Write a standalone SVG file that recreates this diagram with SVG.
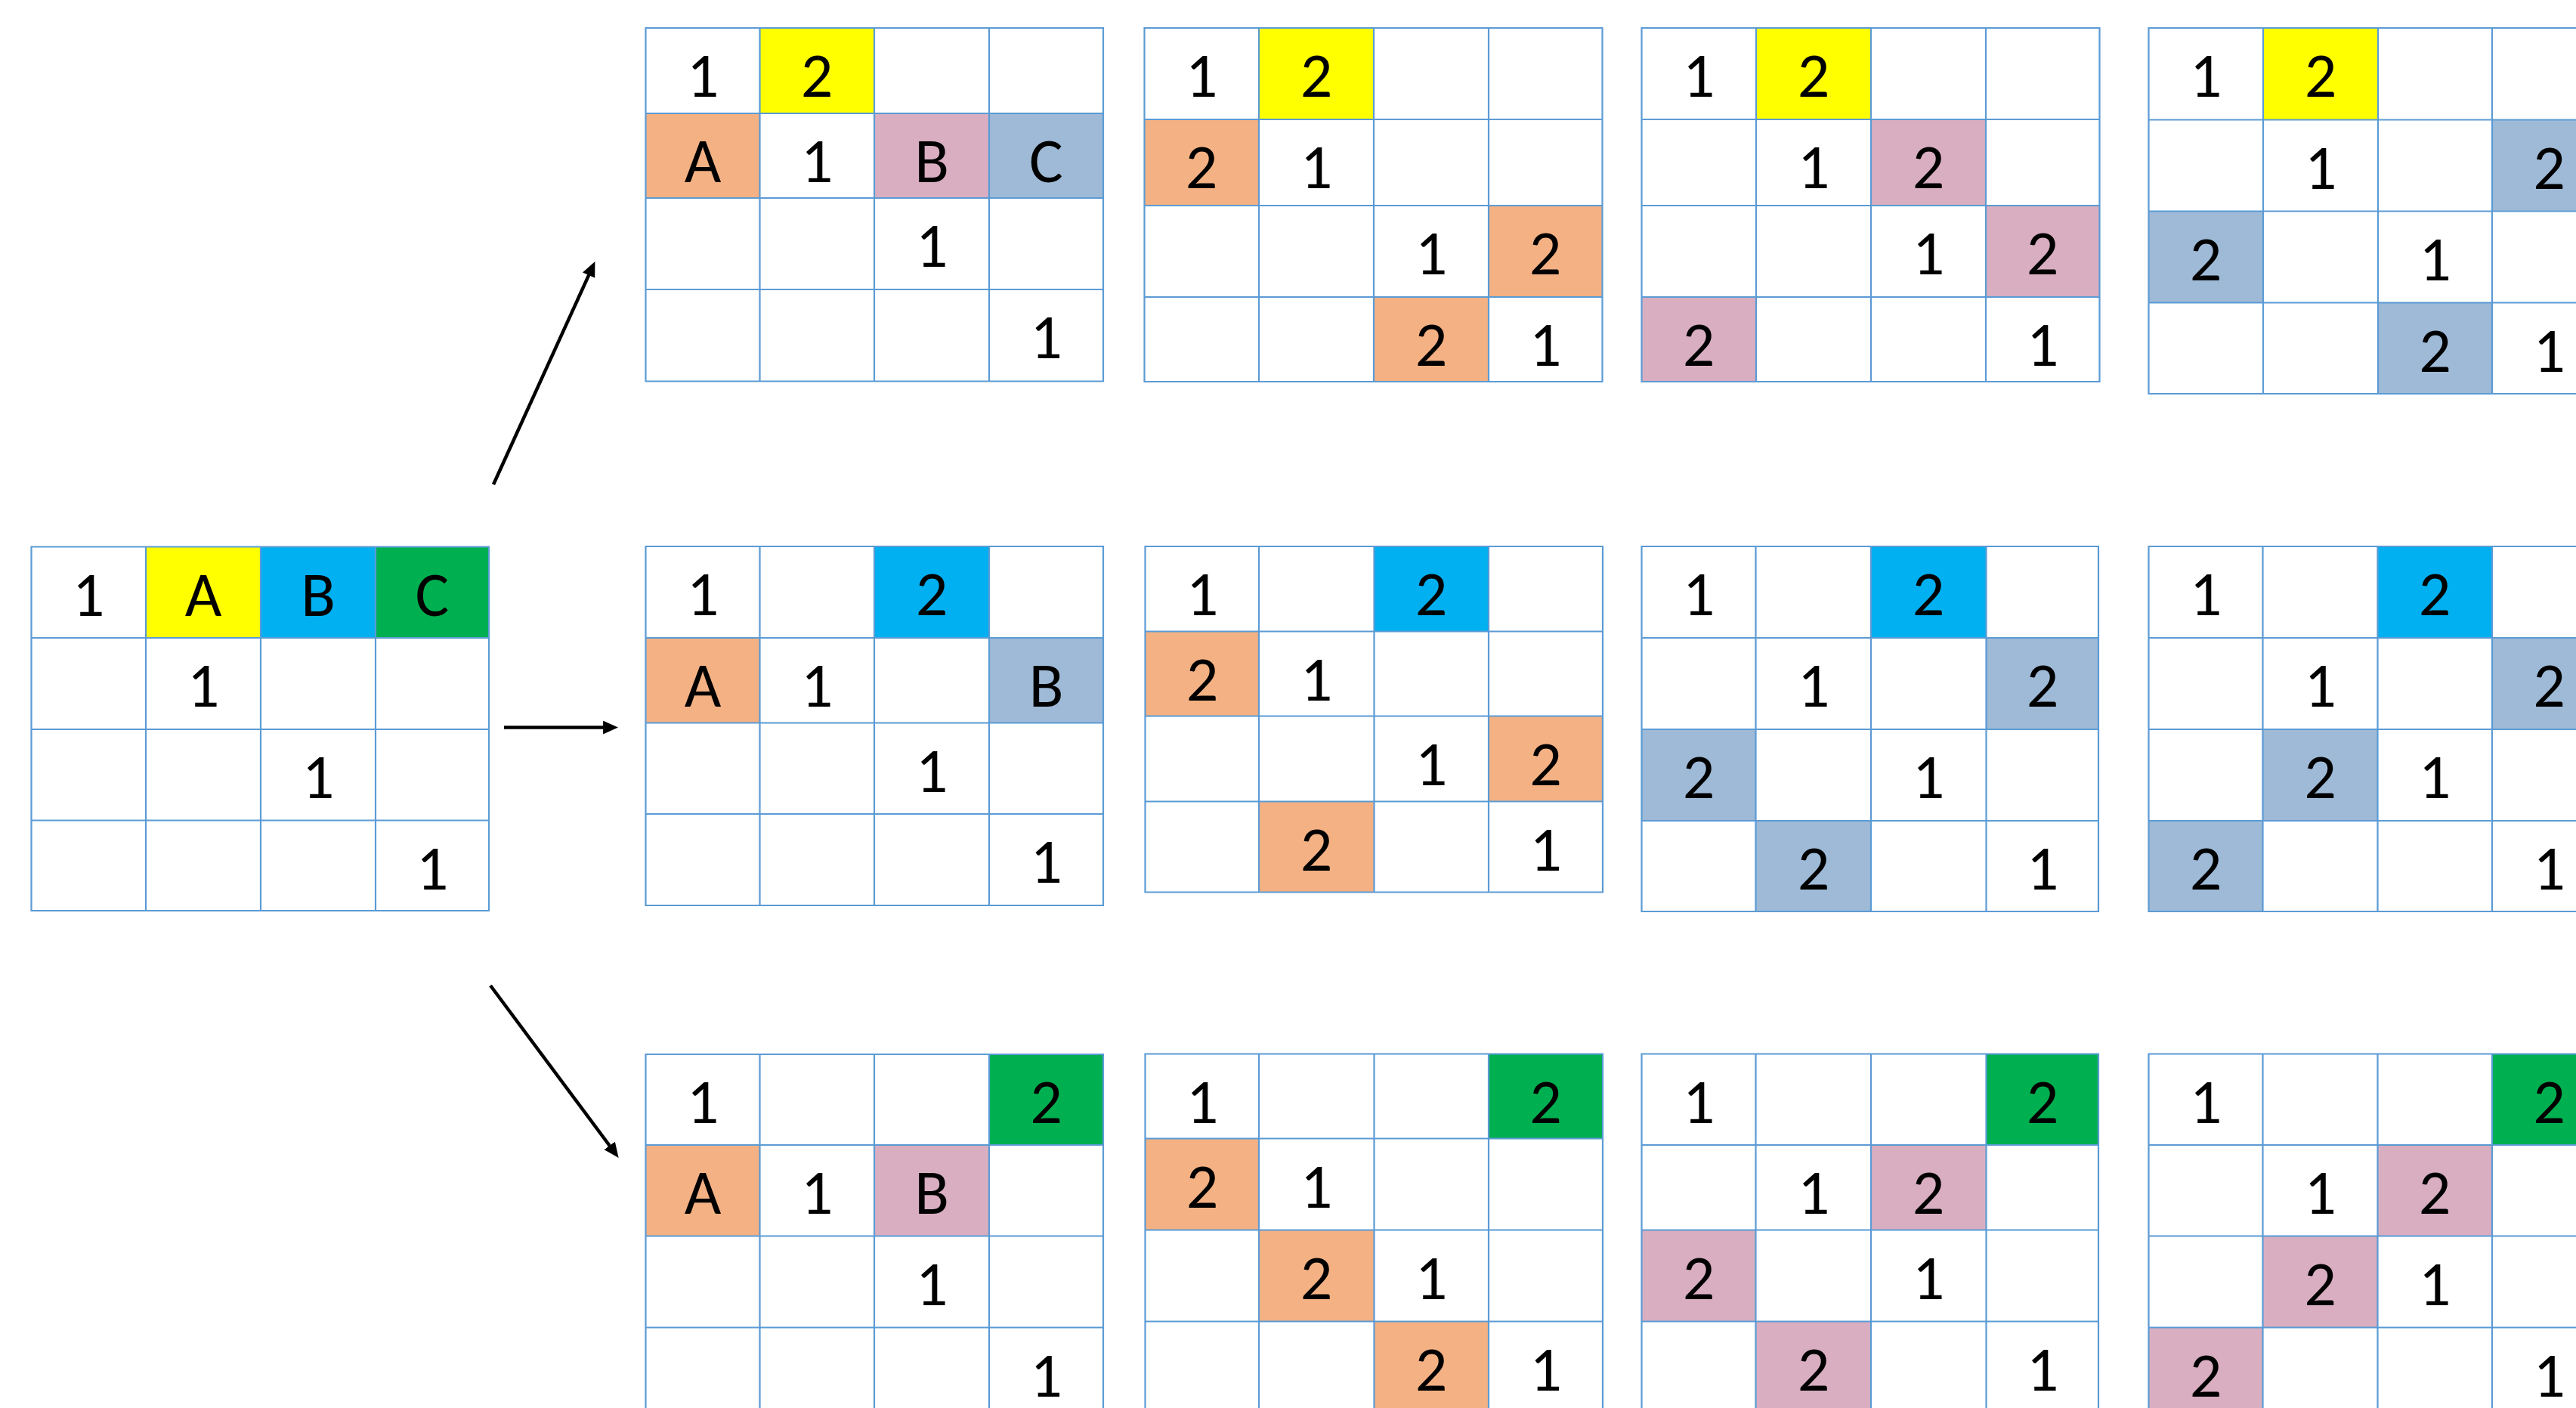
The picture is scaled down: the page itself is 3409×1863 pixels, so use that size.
<svg xmlns="http://www.w3.org/2000/svg" width="3409" height="1863" viewBox="0 0 3409 1863">
<style>
.g{fill:none;stroke:#5B9BD5;stroke-width:2.2}
.y{fill:#FFFF00}.c{fill:#00B0F0}.gr{fill:#00B050}.o{fill:#F4B183}.p{fill:#D8AEC0}.b{fill:#9EBAD7}
text{font-family:Carlito,Lato,"Open Sans",sans-serif;font-size:84px;fill:#000;text-anchor:middle}
.a{stroke:#000;stroke-width:4.5;fill:none;marker-end:url(#ah)}
</style>
<defs>
<marker id="ah" markerUnits="userSpaceOnUse" markerWidth="20" markerHeight="18" viewBox="0 0 18 16" refX="8" refY="8" orient="auto">
<path d="M0 0L18 8L0 16Z" fill="#000"/>
</marker>
</defs>
<rect width="3409" height="1863" fill="#fff"/>

<g id="start">
<rect class="y" x="193" y="723.5" width="152" height="120.5"/>
<rect class="c" x="345" y="723.5" width="152" height="120.5"/>
<rect class="gr" x="497" y="723.5" width="150" height="120.5"/>
<path class="g" d="M41.5 723.5H647V1205H41.5Z M193 723.5V1205 M345 723.5V1205 M497 723.5V1205 M41.5 844H647 M41.5 965H647 M41.5 1085.5H647"/>
<text x="117" y="814.5">1</text><text x="269" y="814.5">A</text><text x="421" y="814.5">B</text><text x="572" y="814.5">C</text>
<text x="269" y="935">1</text><text x="421" y="1056">1</text><text x="572" y="1176.5">1</text>
</g>

<g id="t1">
<rect class="y" x="1005.5" y="37" width="151.5" height="113"/>
<rect class="o" x="854.5" y="150" width="151" height="112"/>
<rect class="p" x="1157" y="150" width="152" height="112"/>
<rect class="b" x="1309" y="150" width="151" height="112"/>
<path class="g" d="M854.5 37H1460V504.5H854.5Z M1005.5 37V504.5 M1157 37V504.5 M1309 37V504.5 M854.5 150H1460 M854.5 262H1460 M854.5 383H1460"/>
<text x="930" y="128">1</text><text x="1081" y="128">2</text>
<text x="930" y="241">A</text><text x="1081" y="241">1</text><text x="1233" y="241">B</text><text x="1384.5" y="241">C</text>
<text x="1233" y="353">1</text><text x="1384.5" y="474">1</text>
</g>

<g id="t2">
<rect class="y" x="1666" y="37" width="152" height="121"/>
<rect class="o" x="1514.5" y="158" width="151.5" height="114"/>
<rect class="o" x="1970" y="272" width="150.5" height="121"/>
<rect class="o" x="1818" y="393" width="152" height="112"/>
<path class="g" d="M1514.5 37H2120.5V505H1514.5Z M1666 37V505 M1818 37V505 M1970 37V505 M1514.5 158H2120.5 M1514.5 272H2120.5 M1514.5 393H2120.5"/>
<text x="1590" y="128">1</text><text x="1742" y="128">2</text>
<text x="1590" y="249">2</text><text x="1742" y="249">1</text>
<text x="1894" y="363">1</text><text x="2045" y="363">2</text>
<text x="1894" y="484">2</text><text x="2045" y="484">1</text>
</g>

<g id="t3">
<rect class="y" x="2324" y="37" width="152" height="121"/>
<rect class="p" x="2476" y="158" width="152" height="114"/>
<rect class="p" x="2628" y="272" width="150.5" height="121"/>
<rect class="p" x="2172.5" y="393" width="151.5" height="112"/>
<path class="g" d="M2172.5 37H2778.5V505H2172.5Z M2324 37V505 M2476 37V505 M2628 37V505 M2172.5 158H2778.5 M2172.5 272H2778.5 M2172.5 393H2778.5"/>
<text x="2248" y="128">1</text><text x="2400" y="128">2</text>
<text x="2400" y="249">1</text><text x="2552" y="249">2</text>
<text x="2552" y="363">1</text><text x="2703" y="363">2</text>
<text x="2248" y="484">2</text><text x="2703" y="484">1</text>
</g>

<g id="t4">
<rect class="y" x="2995" y="37" width="152" height="121.5"/>
<rect class="b" x="3298" y="158.5" width="151" height="121"/>
<rect class="b" x="2843.5" y="279.5" width="151.5" height="121"/>
<rect class="b" x="3147" y="400.5" width="151" height="120.5"/>
<path class="g" d="M2843.5 37H3449V521H2843.5Z M2995 37V521 M3147 37V521 M3298 37V521 M2843.5 158.5H3449 M2843.5 279.5H3449 M2843.5 400.5H3449"/>
<text x="2919" y="128">1</text><text x="3071" y="128">2</text>
<text x="3071" y="249.5">1</text><text x="3373.5" y="249.5">2</text>
<text x="2919" y="370.5">2</text><text x="3222.5" y="370.5">1</text>
<text x="3222.5" y="491.5">2</text><text x="3373.5" y="491.5">1</text>
</g>

<g id="m1">
<rect class="c" x="1157" y="723" width="152" height="121"/>
<rect class="o" x="854.5" y="844" width="151" height="112.5"/>
<rect class="b" x="1309" y="844" width="151" height="112.5"/>
<path class="g" d="M854.5 723H1460V1198H854.5Z M1005.5 723V1198 M1157 723V1198 M1309 723V1198 M854.5 844H1460 M854.5 956.5H1460 M854.5 1077H1460"/>
<text x="930" y="814">1</text><text x="1233" y="814">2</text>
<text x="930" y="935">A</text><text x="1081" y="935">1</text><text x="1384.5" y="935">B</text>
<text x="1233" y="1047.5">1</text><text x="1384.5" y="1168">1</text>
</g>

<g id="m2">
<rect class="c" x="1818.5" y="723" width="151.5" height="112.5"/>
<rect class="o" x="1515.5" y="835.5" width="150.5" height="112"/>
<rect class="o" x="1970" y="947.5" width="151" height="113"/>
<rect class="o" x="1666" y="1060.5" width="152.5" height="120"/>
<path class="g" d="M1515.5 723H2121V1180.5H1515.5Z M1666 723V1180.5 M1818.5 723V1180.5 M1970 723V1180.5 M1515.5 835.5H2121 M1515.5 947.5H2121 M1515.5 1060.5H2121"/>
<text x="1591" y="814">1</text><text x="1894" y="814">2</text>
<text x="1591" y="926.5">2</text><text x="1742" y="926.5">1</text>
<text x="1894" y="1038.5">1</text><text x="2045.5" y="1038.5">2</text>
<text x="1742" y="1151.5">2</text><text x="2045.5" y="1151.5">1</text>
</g>

<g id="m3">
<rect class="c" x="2476" y="723" width="152.5" height="121"/>
<rect class="b" x="2628.5" y="844" width="148.5" height="121"/>
<rect class="b" x="2172.5" y="965" width="151" height="121"/>
<rect class="b" x="2323.5" y="1086" width="152.5" height="120"/>
<path class="g" d="M2172.5 723H2777V1206H2172.5Z M2323.5 723V1206 M2476 723V1206 M2628.5 723V1206 M2172.5 844H2777 M2172.5 965H2777 M2172.5 1086H2777"/>
<text x="2248" y="814">1</text><text x="2552" y="814">2</text>
<text x="2400" y="935">1</text><text x="2703" y="935">2</text>
<text x="2248" y="1056">2</text><text x="2552" y="1056">1</text>
<text x="2400" y="1177">2</text><text x="2703" y="1177">1</text>
</g>

<g id="m4">
<rect class="c" x="3146.5" y="723" width="151.5" height="121"/>
<rect class="b" x="3298" y="844" width="151" height="121"/>
<rect class="b" x="2994.5" y="965" width="152" height="121"/>
<rect class="b" x="2843.5" y="1086" width="151" height="120"/>
<path class="g" d="M2843.5 723H3449V1206H2843.5Z M2994.5 723V1206 M3146.5 723V1206 M3298 723V1206 M2843.5 844H3449 M2843.5 965H3449 M2843.5 1086H3449"/>
<text x="2919" y="814">1</text><text x="3222" y="814">2</text>
<text x="3070.5" y="935">1</text><text x="3373.5" y="935">2</text>
<text x="3070.5" y="1056">2</text><text x="3222" y="1056">1</text>
<text x="2919" y="1177">2</text><text x="3373.5" y="1177">1</text>
</g>

<g id="b1">
<rect class="gr" x="1309" y="1395" width="151" height="120"/>
<rect class="o" x="854.5" y="1515" width="151" height="120.5"/>
<rect class="p" x="1157" y="1515" width="152" height="120.5"/>
<path class="g" d="M854.5 1395H1460V1877H854.5Z M1005.5 1395V1877 M1157 1395V1877 M1309 1395V1877 M854.5 1515H1460 M854.5 1635.5H1460 M854.5 1756.5H1460"/>
<text x="930" y="1486">1</text><text x="1384.5" y="1486">2</text>
<text x="930" y="1606">A</text><text x="1081" y="1606">1</text><text x="1233" y="1606">B</text>
<text x="1233" y="1726.5">1</text><text x="1384.5" y="1847.5">1</text>
</g>

<g id="b2">
<rect class="gr" x="1970" y="1394.5" width="151" height="112"/>
<rect class="o" x="1515.5" y="1506.5" width="150.5" height="121"/>
<rect class="o" x="1666" y="1627.5" width="152.5" height="121"/>
<rect class="o" x="1818.5" y="1748.5" width="151.5" height="120.5"/>
<path class="g" d="M1515.5 1394.5H2121V1869H1515.5Z M1666 1394.5V1869 M1818.5 1394.5V1869 M1970 1394.5V1869 M1515.5 1506.5H2121 M1515.5 1627.5H2121 M1515.5 1748.5H2121"/>
<text x="1591" y="1485.5">1</text><text x="2045.5" y="1485.5">2</text>
<text x="1591" y="1597.5">2</text><text x="1742" y="1597.5">1</text>
<text x="1742" y="1718.5">2</text><text x="1894" y="1718.5">1</text>
<text x="1894" y="1839.5">2</text><text x="2045.5" y="1839.5">1</text>
</g>

<g id="b3">
<rect class="gr" x="2628.5" y="1394.5" width="148.5" height="120.5"/>
<rect class="p" x="2476" y="1515" width="152.5" height="112.5"/>
<rect class="p" x="2172.5" y="1627.5" width="151" height="121"/>
<rect class="p" x="2323.5" y="1748.5" width="152.5" height="120.5"/>
<path class="g" d="M2172.5 1394.5H2777V1869H2172.5Z M2323.5 1394.5V1869 M2476 1394.5V1869 M2628.5 1394.5V1869 M2172.5 1515H2777 M2172.5 1627.5H2777 M2172.5 1748.5H2777"/>
<text x="2248" y="1485.5">1</text><text x="2703" y="1485.5">2</text>
<text x="2400" y="1606">1</text><text x="2552" y="1606">2</text>
<text x="2248" y="1718.5">2</text><text x="2552" y="1718.5">1</text>
<text x="2400" y="1839.5">2</text><text x="2703" y="1839.5">1</text>
</g>

<g id="b4">
<rect class="gr" x="3298" y="1394.5" width="151" height="120.5"/>
<rect class="p" x="3146.5" y="1515" width="151.5" height="120.5"/>
<rect class="p" x="2994.5" y="1635.5" width="152" height="121"/>
<rect class="p" x="2843.5" y="1756.5" width="151" height="120.5"/>
<path class="g" d="M2843.5 1394.5H3449V1877H2843.5Z M2994.5 1394.5V1877 M3146.5 1394.5V1877 M3298 1394.5V1877 M2843.5 1515H3449 M2843.5 1635.5H3449 M2843.5 1756.5H3449"/>
<text x="2919" y="1485.5">1</text><text x="3373.5" y="1485.5">2</text>
<text x="3070.5" y="1606">1</text><text x="3222" y="1606">2</text>
<text x="3070.5" y="1726.5">2</text><text x="3222" y="1726.5">1</text>
<text x="2919" y="1847.5">2</text><text x="3373.5" y="1847.5">1</text>
</g>

<g id="connectors">
<path class="a" d="M653 641L782.8 356.1"/>
<path class="a" d="M667 962.5H807"/>
<path class="a" d="M649 1304L812 1523"/>
</g>
</svg>
